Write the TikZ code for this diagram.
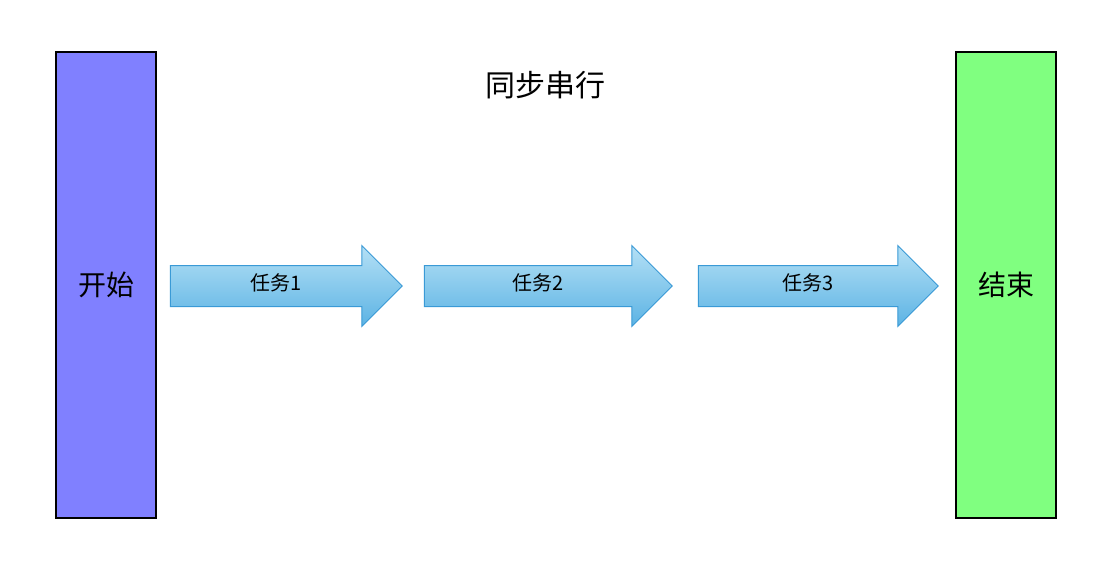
\documentclass[tikz,border=0pt]{standalone}
\usepackage{fontspec}
\setmainfont{Noto Sans CJK SC}
\usetikzlibrary{shapes.arrows,positioning}
\definecolor{startfill}{HTML}{8080FF}
\definecolor{endfill}{HTML}{80FF80}
\definecolor{taskline}{HTML}{3A9AD6}
\definecolor{tasktop}{HTML}{B4E0F5}
\definecolor{taskbot}{HTML}{5CB3E4}
\tikzset{bar/.style={draw=black,line width=1.2pt,minimum width=100pt,minimum height=466pt,inner sep=0pt,font=\fontsize{28}{28}\selectfont}}
\tikzset{task/.style={single arrow,draw=taskline,line width=1pt,top color=tasktop,bottom color=taskbot,text height=14pt,text depth=6pt,inner ysep=10pt,inner xsep=0pt,single arrow head extend=20pt,single arrow head indent=0pt,font=\fontsize{20}{20}\selectfont}}
\begin{document}
\begin{tikzpicture}[x=1pt,y=-1pt]
  \useasboundingbox[fill=white] (0,0) rectangle (1100,566);
  \node (title) at (545,85) {\fontsize{30}{30}\selectfont 同步串行};
  \node[bar,fill=startfill] (start) at (106,285) {开始};
  \node[bar,fill=endfill] (finish) at (1006,285) {结束};
  \node[task,minimum height=232pt] (t1) at (276,286) {任务1};
  \node[task,minimum height=248pt] (t2) at (538,286) {任务2};
  \node[task,minimum height=240pt] (t3) at (808,286) {任务3};
\end{tikzpicture}
\end{document}
